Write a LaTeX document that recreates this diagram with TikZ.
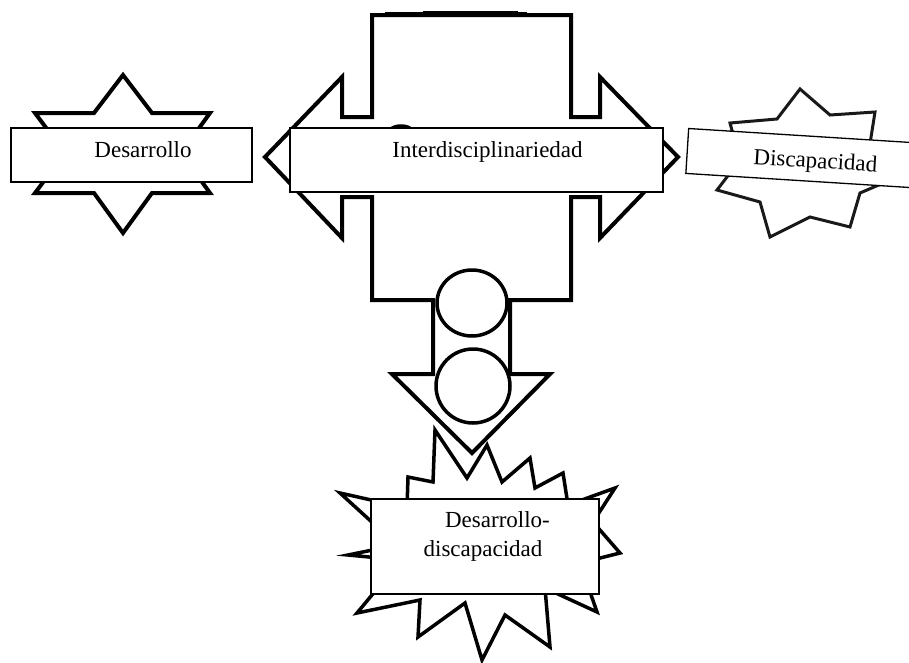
\documentclass[tikz,border=0pt]{standalone}
\usepackage{fontspec}
\setmainfont{Liberation Serif}
\begin{document}
\begin{tikzpicture}[x=1pt,y=-1pt,
  outl/.style={draw=black, line width=3.5pt, fill=white, line join=miter, miter limit=10},
  box/.style={draw=black, line width=1.3pt, fill=white, inner sep=0pt, outer sep=0pt},
  lbl/.style={font=\fontsize{23}{28}\selectfont, inner sep=0pt, anchor=base, text=black}]
\useasboundingbox (0,0) rectangle (909,662);

% left hexagram
\draw[outl, line width=4pt] (123,75) -- (152,113) -- (210,113) -- (181,153) -- (210,193) -- (152,193)
  -- (123,233) -- (94,193) -- (35,193) -- (65,153) -- (35,113) -- (94,113) -- cycle;

% right star
\draw[outl, line width=3pt, draw=black!90] (800,89) -- (830,115) -- (875,112) -- (869,150) -- (895,178)
  -- (860,193) -- (850,227) -- (810,217) -- (770,237) -- (760,202) -- (717,190) -- (740,160)
  -- (730,123) -- (777,119) -- cycle;

% bottom star
\draw[outl] (340,493) -- (407,508) -- (408,477) -- (433,482) -- (435,430) -- (467,478) -- (487,445)
  -- (502,482) -- (530,458) -- (535,488) -- (563,473) -- (568,505) -- (615,488) -- (593,522)
  -- (620,553) -- (580,563) -- (597,612) -- (545,588) -- (550,647) -- (505,615) -- (482,660)
  -- (465,603) -- (418,637) -- (420,600) -- (357,613) -- (401,560) -- (348,555) -- (397,545) -- cycle;

% cross with arrows
\draw[outl, line width=4pt] (372,15) -- (571,15) -- (571,117) -- (600,117) -- (600,77) -- (678,157)
  -- (600,238) -- (600,197) -- (571,197) -- (571,300) -- (510,300) -- (510,374) -- (550,374)
  -- (472,453) -- (392,374) -- (433,374) -- (433,300) -- (372,300) -- (372,197) -- (342,197)
  -- (342,238) -- (265,157) -- (342,77) -- (342,117) -- (372,117) -- cycle;
\draw[line width=2pt] (385,13) -- (527,13);
\draw[line width=3pt] (423,12.5) -- (518,12.5);

% circles
\draw[outl] (472,303) ellipse [x radius=35pt, y radius=33pt];
\draw[outl] (473,386) ellipse [x radius=37pt, y radius=37pt];

% small arc
\draw[line width=2.5pt] (389,130) .. controls (394,124) and (408,124) .. (413,130);

% boxes
\node[box, minimum width=241pt, minimum height=54pt] (desbox) at (131.5,155) {};
\node[box, minimum width=373pt, minimum height=64pt] (interbox) at (476.5,160) {};
\node[box, minimum width=228pt, minimum height=95pt] (ddbox) at (485,546.5) {};
\node[box, minimum width=256pt, minimum height=45pt, rotate=-3.6] (discbox) at (815,159) {};

% labels
\node[lbl] (des) at (143,157) {Desarrollo};
\node[lbl] (inter) at (487.5,157) {Interdisciplinariedad};
\node[lbl, rotate=-3.6] (disc) at (815,168) {Discapacidad};
\node[lbl] (dd1) at (497.5,527) {Desarrollo-};
\node[lbl] (dd2) at (483,556) {discapacidad};
\end{tikzpicture}
\end{document}
